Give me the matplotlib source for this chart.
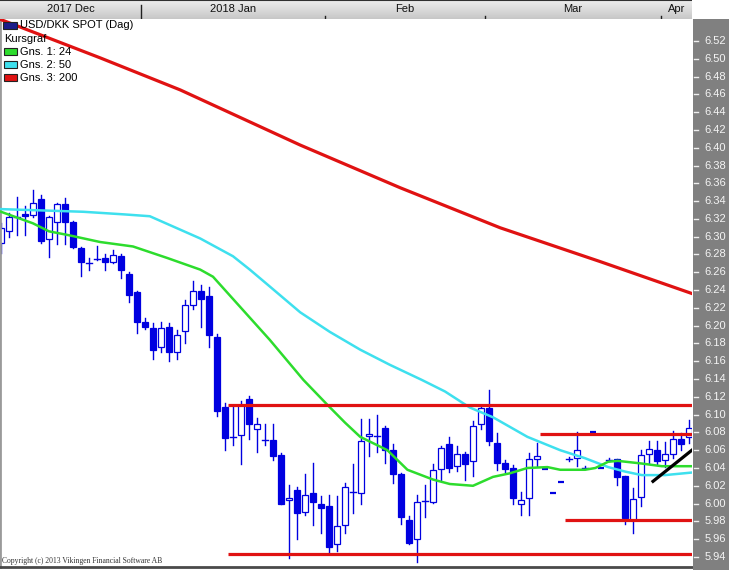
import numpy as np
import matplotlib
matplotlib.use("Agg")
import matplotlib.pyplot as plt
from matplotlib.patches import Rectangle

# daily USD/DKK candles, index 0 = 6 Dec 2017
opens = [6.293, 6.306, 6.322, 6.325, 6.324, 6.342, 6.297, 6.317, 6.337, 6.317,
         6.287, 6.270, 6.275, 6.276, 6.272, 6.278, 6.258, 6.238, 6.204, 6.197,
         6.176, 6.198, 6.170, 6.194, 6.223, 6.239, 6.233, 6.187, 6.108, 6.075,
         6.077, 6.118, 6.084, 6.071, 6.071, 6.055, 6.004, 6.015, 5.991, 6.012,
         6.000, 5.997, 5.954, 5.976, 6.013, 6.012, 6.076, 6.076, 6.085, 6.060,
         6.033, 5.982, 5.960, 6.003, 6.002, 6.039, 6.067, 6.042, 6.056, 6.048,
         6.089, 6.107, 6.068, 6.046, 6.040, 5.999, 6.006, 6.050, 6.039, 6.012,
         6.024, 6.050, 6.051, 6.040, 6.080, 6.040, 6.049, 6.050, 6.031, 5.982,
         6.007, 6.056, 6.060, 6.049, 6.056, 6.073, 6.075]
highs = [6.315, 6.327, 6.345, 6.334, 6.353, 6.347, 6.323, 6.338, 6.343, 6.318,
         6.288, 6.276, 6.290, 6.280, 6.285, 6.280, 6.260, 6.239, 6.209, 6.203,
         6.204, 6.203, 6.195, 6.229, 6.250, 6.246, 6.243, 6.191, 6.113, 6.109,
         6.115, 6.121, 6.096, 6.090, 6.090, 6.057, 6.021, 6.019, 6.033, 6.046,
         6.008, 6.010, 6.009, 6.023, 6.045, 6.095, 6.095, 6.100, 6.087, 6.067,
         6.034, 5.986, 6.010, 6.021, 6.045, 6.065, 6.075, 6.065, 6.058, 6.093,
         6.111, 6.128, 6.079, 6.049, 6.043, 6.013, 6.057, 6.068, 6.039, 6.012,
         6.024, 6.052, 6.080, 6.042, 6.080, 6.040, 6.051, 6.050, 6.031, 6.018,
         6.060, 6.070, 6.070, 6.069, 6.082, 6.079, 6.094]
lows = [6.282, 6.300, 6.302, 6.302, 6.322, 6.293, 6.277, 6.292, 6.292, 6.287,
        6.256, 6.263, 6.274, 6.263, 6.270, 6.253, 6.227, 6.192, 6.196, 6.162,
        6.170, 6.160, 6.162, 6.180, 6.219, 6.198, 6.176, 6.098, 6.060, 6.066,
        6.045, 6.073, 6.058, 6.066, 6.049, 6.000, 5.939, 5.960, 5.987, 5.976,
        5.967, 5.945, 5.947, 5.967, 5.989, 6.000, 6.053, 6.058, 6.046, 6.023,
        5.977, 5.955, 5.934, 5.985, 6.001, 6.027, 6.036, 6.037, 6.027, 6.031,
        6.084, 6.066, 6.038, 6.036, 5.999, 5.987, 5.987, 6.042, 6.039, 6.012,
        6.024, 6.048, 6.042, 6.039, 6.080, 6.040, 6.048, 6.021, 5.977, 5.967,
        5.997, 6.046, 6.045, 6.041, 6.051, 6.060, 6.068]
closes = [6.310, 6.322, 6.322, 6.323, 6.338, 6.295, 6.322, 6.337, 6.317, 6.288,
          6.271, 6.270, 6.275, 6.271, 6.279, 6.263, 6.234, 6.204, 6.198, 6.173,
          6.197, 6.170, 6.190, 6.223, 6.239, 6.230, 6.190, 6.104, 6.074, 6.075,
          6.111, 6.089, 6.090, 6.071, 6.053, 6.000, 6.006, 5.989, 6.010, 6.002,
          5.995, 5.951, 5.975, 6.019, 6.013, 6.070, 6.078, 6.076, 6.060, 6.033,
          5.985, 5.956, 6.002, 6.003, 6.038, 6.063, 6.040, 6.056, 6.044, 6.087,
          6.107, 6.070, 6.046, 6.039, 6.006, 6.004, 6.050, 6.053, 6.039, 6.012,
          6.024, 6.050, 6.060, 6.040, 6.080, 6.040, 6.049, 6.030, 5.984, 6.005,
          6.055, 6.061, 6.048, 6.056, 6.073, 6.067, 6.085]

# moving averages (candle index, level)
ma24_x = [0, 4, 6, 8.3, 12.4, 16.5, 20.8, 24.9, 26.5, 27.6, 29.9, 33.6, 37.8, 40.8,
          43, 44.9, 48.3, 50.8, 54, 56.1, 59, 61.5, 63.6, 65.8, 68.3, 69.9, 73,
          74.3, 75.9, 77.1, 80.1, 82.6, 86.5]
ma24_y = [6.328, 6.315, 6.306, 6.302, 6.294, 6.289, 6.276, 6.263, 6.255, 6.244,
          6.221, 6.184, 6.139, 6.111, 6.091, 6.075, 6.060, 6.038, 6.027, 6.022,
          6.020, 6.030, 6.034, 6.040, 6.041, 6.038, 6.038, 6.040, 6.047, 6.048,
          6.045, 6.042, 6.042]
ma50_x = [0, 10.3, 15.5, 18.6, 24.9, 29, 31.1, 33.6, 37.4, 41.1, 44.9, 48.6, 52.6,
          55.5, 58.6, 61.5, 65.8, 69.9, 73, 75.9, 78, 80.1, 83, 86.5]
ma50_y = [6.331, 6.328, 6.325, 6.323, 6.298, 6.278, 6.263, 6.244, 6.215, 6.193,
          6.173, 6.156, 6.139, 6.126, 6.108, 6.097, 6.075, 6.060, 6.051, 6.041,
          6.036, 6.032, 6.032, 6.035]
ma200_x = [0, 12.4, 22.4, 37.4, 49.9, 62.4, 74.9, 86.4]
ma200_y = [6.544, 6.501, 6.465, 6.403, 6.355, 6.310, 6.272, 6.236]

# drawn support / resistance levels and the short trend line
level_y = [6.111, 6.078, 5.981, 5.943]
level_from = [28.4, 67.4, 70.5, 28.4]
trend_x = [81.5, 86.5]
trend_y = [6.025, 6.061]

month_labels = ["2017 Dec", "2018 Jan", "Feb", "Mar", "Apr"]
month_start = [-0.5, 17.5, 40.5, 60.5, 82.5]
price_ticks = [round(6.52 - 0.02 * i, 2) for i in range(30)]

legend_names = ["Gns. 1: 24", "Gns. 2: 50", "Gns. 3: 200"]

BLUE = "#0000e0"
GREEN = "#2ddc2d"
CYAN = "#3ee0ee"
RED = "#e01212"
FONT = "Liberation Sans"

W, H = 729, 570
fig = plt.figure(figsize=(W / 100, H / 100), dpi=100)
fig.patch.set_facecolor("white")


def frac(x0, y0, w, h):
    return [x0 / W, 1 - (y0 + h) / H, w / W, h / H]


XL = (-0.125, 86.375)
ax = fig.add_axes(frac(0, 19, 692, 548))
ax.set_xlim(*XL)
ax.set_ylim(5.9287, 6.5447)
ax.set_xticks([])
ax.set_yticks([])
for s in ["top", "right"]:
    ax.spines[s].set_visible(False)
ax.spines["left"].set_color("#9a9a9a")
ax.spines["left"].set_linewidth(2)
ax.spines["bottom"].set_color("#4a4a4a")
ax.spines["bottom"].set_linewidth(2)

bw = 0.75
for i in range(len(opens)):
    o, h, l, c = opens[i], highs[i], lows[i], closes[i]
    if h - l < 0.0005:
        ax.plot([i - bw / 2, i + bw / 2], [o, o], color=BLUE, lw=1.6,
                solid_capstyle="butt", zorder=2)
        continue
    ax.plot([i, i], [l, h], color=BLUE, lw=1.0, zorder=2)
    if abs(c - o) < 0.0008:
        ax.plot([i - bw / 2, i + bw / 2], [o, o], color=BLUE, lw=1.0, zorder=2)
        continue
    bot, top = min(o, c), max(o, c)
    fc = "white" if c > o else BLUE
    ax.add_patch(Rectangle((i - bw / 2, bot), bw, top - bot, facecolor=fc,
                           edgecolor=BLUE, lw=0.9, zorder=2.5))

ax.plot(ma200_x, ma200_y, color=RED, lw=2.3, zorder=3)
ax.plot(ma50_x, ma50_y, color=CYAN, lw=1.8, zorder=3)
ax.plot(ma24_x, ma24_y, color=GREEN, lw=1.8, zorder=3)
ax.hlines(level_y, level_from, XL[1], color=RED, lw=2.3, zorder=4)
ax.plot(trend_x, trend_y, color="black", lw=2.3, zorder=4)

# legend block
lx = ax.transAxes
def px(x, y):
    return x / 692, 1 - (y - 19) / 548

ax.add_patch(Rectangle(px(3, 29), 14 / 692, 7 / 548, transform=lx,
                       facecolor="#1c1c8a", edgecolor="#222222", lw=0.8, zorder=5))
ax.text(*px(20, 25), "USD/DKK SPOT (Dag)", transform=lx, fontsize=8,
        family=FONT, va="center", zorder=6)
ax.text(*px(4, 39), "Kursgraf", transform=lx, fontsize=8, family=FONT,
        va="center", zorder=6)
for j, (name, col) in enumerate(zip(legend_names, [GREEN, CYAN, RED])):
    yc = 52 + 13 * j
    ax.add_patch(Rectangle(px(4, yc + 3), 13 / 692, 7 / 548, transform=lx,
                           facecolor=col, edgecolor="#222222", lw=0.8, zorder=5))
    ax.text(*px(20, yc), name, transform=lx, fontsize=8, family=FONT,
            va="center", zorder=6)

ax.text(*px(2, 561), "Copyright (c) 2013 Vikingen Financial Software AB",
        transform=lx, fontsize=5.5, family="Liberation Serif", color="#333333",
        va="center", zorder=6)

# header with months
hax = fig.add_axes(frac(0, 0, 692, 19))
hax.set_xlim(*XL)
hax.set_ylim(0, 1)
grad = np.linspace(0.93, 0.78, 50).reshape(-1, 1)
hax.imshow(grad, cmap="gray", vmin=0, vmax=1, aspect="auto",
           extent=(XL[0], XL[1], 0, 1), origin="upper")
hax.set_xticks([])
hax.set_yticks([])
for s in hax.spines.values():
    s.set_visible(False)
hax.axhline(1, color="#303030", lw=1.5)
edges = month_start[1:] + [XL[1]]
for j, lab in enumerate(month_labels):
    a = max(month_start[j], XL[0])
    b = edges[j]
    hax.text((a + b) / 2, 0.5, lab, ha="center", va="center", fontsize=8,
             family=FONT, color="#111111")
for j, m in enumerate(month_start[1:]):
    hax.plot([m, m], [0, 0.75 if j == 0 else 0.18], color="#202020", lw=1)

# price scale panel
rax = fig.add_axes(frac(693, 19, 36, 551))
rax.set_facecolor("#808080")
rax.set_xlim(0, 1)
rax.set_ylim(6.52 - 529 / 889.6, 6.5447)
rax.set_xticks([])
rax.set_yticks([])
for s in rax.spines.values():
    s.set_visible(False)
for v in price_ticks:
    rax.plot([0.04, 0.14], [v, v], color="#eeeeee", lw=1)
    rax.text(0.32, v, f"{v:.2f}", va="center", ha="left", fontsize=8,
             family=FONT, color="#f4f4f4")

fig.savefig("out.png", dpi=100)
